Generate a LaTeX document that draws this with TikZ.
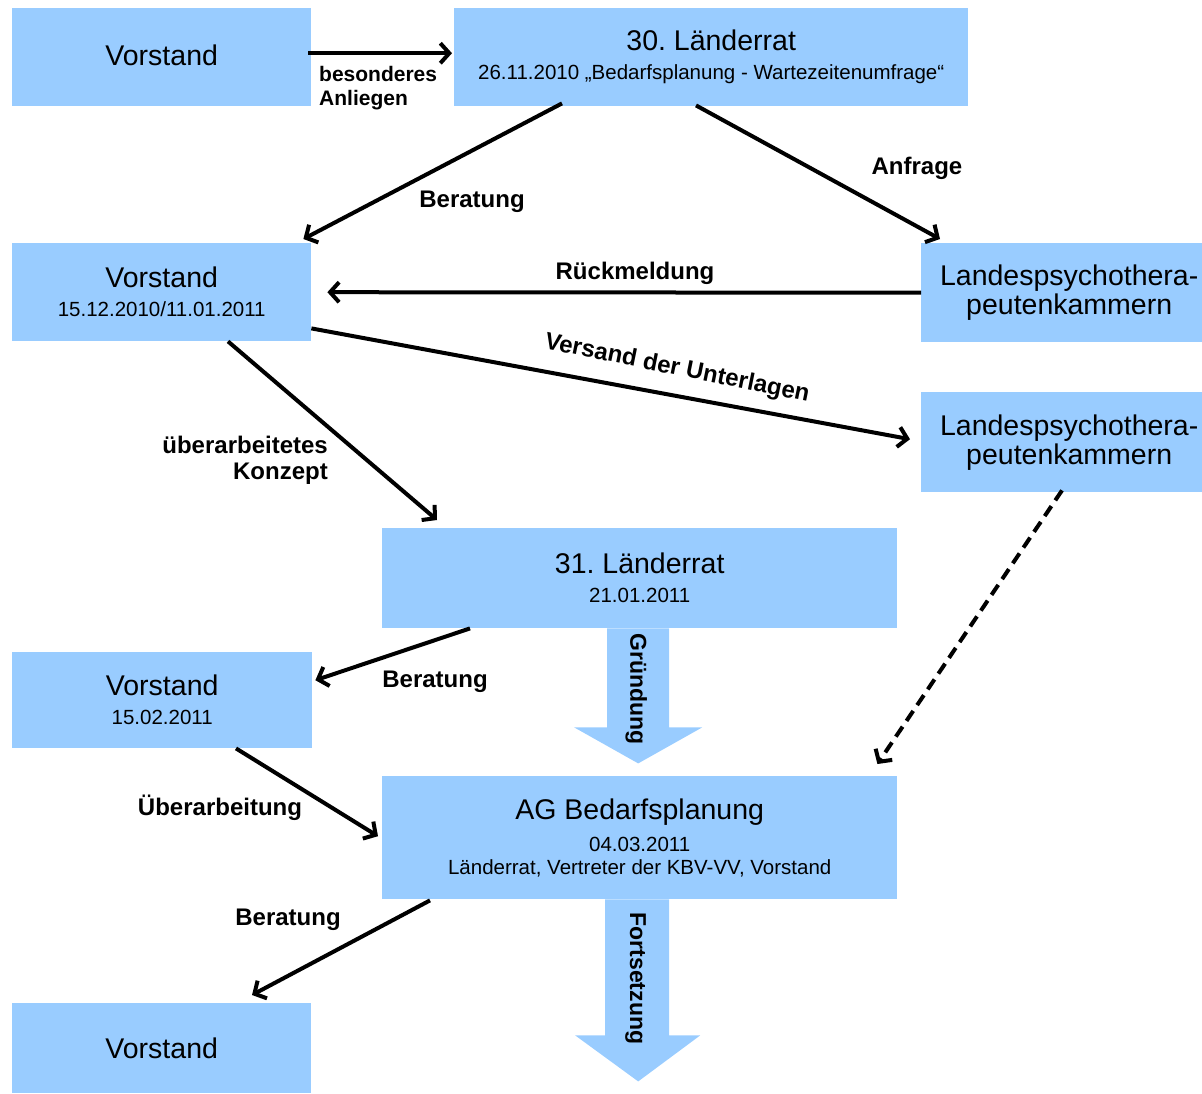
\documentclass[tikz,border=0pt]{standalone}
\usepackage{fontspec}
\setmainfont{Liberation Sans}
\usetikzlibrary{arrows.meta}
\definecolor{boxblue}{HTML}{99CCFF}
\newcommand\subf{\fontsize{20.5}{22}\selectfont}
\frenchspacing
\begin{document}
\begin{tikzpicture}[x=1pt,y=-1pt,
  box/.style={fill=boxblue, draw=none, inner sep=0pt, anchor=north west, align=center,
              font=\fontsize{28.5}{29}\selectfont},
  conn/.style={line width=4pt, -{Straight Barb[length=9pt,width=20pt]}},
  dconn/.style={line width=4pt, dash pattern=on 12pt off 7pt, -{Straight Barb[length=9pt,width=20pt]}},
  lab/.style={font=\bfseries\fontsize{24}{26}\selectfont, inner sep=0pt},
  blk/.style={fill=boxblue, draw=none}
]
\useasboundingbox (0,0) rectangle (1202,1093);

% boxes
\node[box, minimum width=299pt, minimum height=98pt] (v1) at (12,8) {\raisebox{4pt}{Vorstand}};
\node[box, minimum width=514pt, minimum height=98pt] (lr30) at (454,8)
  {30. Länderrat\\{\subf 26.11.2010 „Bedarfsplanung - Wartezeitenumfrage“}};
\node[box, minimum width=299pt, minimum height=98pt] (v2) at (12,243)
  {Vorstand\\{\subf 15.12.2010/11.01.2011}};
\node[box, minimum width=296pt, minimum height=99pt] (lpk1) at (921,243)
  {Landespsychothera-\\peutenkammern};
\node[box, minimum width=296pt, minimum height=100pt] (lpk2) at (921,392)
  {Landespsychothera-\\peutenkammern};
\node[box, minimum width=515pt, minimum height=100pt] (lr31) at (382,528)
  {31. Länderrat\\{\subf 21.01.2011}};
\node[box, minimum width=300pt, minimum height=96pt] (v3) at (12,652)
  {Vorstand\\{\subf 15.02.2011}};
\node[box, minimum width=515pt, minimum height=123pt] (ag) at (382,776)
  {AG Bedarfsplanung\\[3pt]{\subf 04.03.2011}\\[-6pt]{\subf Länderrat, Vertreter der KBV-VV, Vorstand}};
\node[box, minimum width=299pt, minimum height=90pt] (v4) at (12,1003) {Vorstand};

% block arrows
\fill[blk, shift={(lr31.south)}] (-32.5,0) -- (29.5,0) -- (29.5,99) -- (62.5,99)
  -- (-1.5,135) -- (-65.5,99) -- (-32.5,99) -- cycle;
\fill[blk, shift={(ag.south)}] (-34.5,0) -- (29.5,0) -- (29.5,136) -- (60.5,136)
  -- (-1.5,182) -- (-64.5,136) -- (-34.5,136) -- cycle;
\node[lab, font=\bfseries\fontsize{23}{25}\selectfont, rotate=-90] (lgr) at ([xshift=-3.5pt,yshift=-61pt]lr31.south) {Gründung};
\node[lab, font=\bfseries\fontsize{23}{25}\selectfont, rotate=-90] (lfs) at ([xshift=-4pt,yshift=-79pt]ag.south) {Fortsetzung};

% connectors
\draw[conn] ([xshift=-3pt,yshift=4pt]v1.east) -- ([xshift=-2pt,yshift=4pt]lr30.west);
\draw[conn] ([xshift=108pt,yshift=3pt]lr30.south west) -- ([xshift=-8pt,yshift=4pt]v2.north east);
\draw[conn] ([xshift=242pt,yshift=1pt]lr30.south west) -- ([xshift=19pt,yshift=4pt]lpk1.north west);
\draw[conn] (lpk1.west) -- ([xshift=16pt]v2.east);
\draw[conn] ([yshift=13pt]v2.south east) -- ([xshift=-11pt,yshift=3pt]lpk2.west);
\draw[conn] ([xshift=216pt]v2.south west) -- ([xshift=55pt,yshift=8pt]lr31.north west);
\draw[conn] ([xshift=88pt]lr31.south west) -- ([xshift=3pt,yshift=20pt]v3.east);
\draw[dconn] ([xshift=141pt,yshift=2pt]lpk2.south west) -- ([xshift=-20pt,yshift=12pt]ag.north east);
\draw[conn] ([xshift=224pt]v3.south west) -- ([xshift=-4pt,yshift=1.5pt]ag.west);
\draw[conn] ([xshift=48pt,yshift=-1pt]ag.south west) -- ([xshift=240pt,yshift=8pt]v4.north west);

% labels
\node[lab, font=\bfseries\fontsize{21}{24}\selectfont, anchor=west, align=left] (lbes) at (319,88) {besonderes\\Anliegen};
\node[lab] (lber1) at (472,202) {Beratung};
\node[lab] (lanf) at (917,168) {Anfrage};
\node[lab] (lrue) at (635,273) {Rückmeldung};
\node[lab, rotate=-11.5] (lver) at (677,369) {Versand der Unterlagen};
\node[lab, anchor=east, align=right] (lkon) at (328,460) {überarbeitetes\\Konzept};
\node[lab] (lber2) at (435,682) {Beratung};
\node[lab] (lueb) at (220,808) {Überarbeitung};
\node[lab] (lber3) at (288,920) {Beratung};
\end{tikzpicture}
\end{document}
